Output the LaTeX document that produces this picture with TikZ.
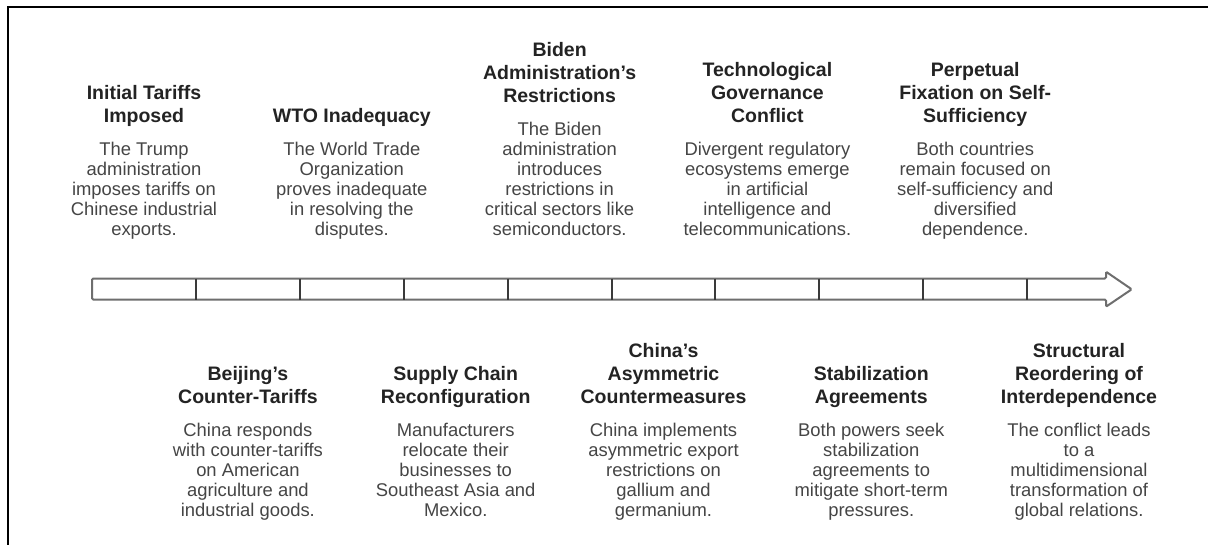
\documentclass[tikz,border=0pt]{standalone}
\usepackage{fontspec}
\setmainfont{Liberation Sans}

\definecolor{titlecol}{HTML}{232323}
\definecolor{desccol}{HTML}{454545}
\definecolor{barcol}{HTML}{6E6E6E}
\definecolor{tickcol}{HTML}{3A3A3A}

% heading and body text of one timeline event
\newcommand{\evtitlefont}{\fontsize{19.5}{23}\selectfont\bfseries}
\newcommand{\evdescfont}{\fontsize{18.4}{20}\selectfont\mdseries}
\newcommand{\eventblock}[2]{%
  \parbox[b]{200pt}{\centering
    \evtitlefont\leavevmode\textcolor{titlecol}{#1}\par
    \vspace{13pt}%
    \evdescfont #2\par}}

\tikzset{
  event/.style={inner sep=0pt, outer sep=0pt, anchor=base, text=desccol},
  frameline/.style={line width=2.2pt, draw=black},
  barline/.style={line width=2pt, draw=barcol, rounded corners=1.2pt, line join=miter},
  tickline/.style={line width=2pt, draw=tickcol}
}

\begin{document}
\begin{tikzpicture}[x=1pt, y=-1pt]
\useasboundingbox (0,0) rectangle (1208,544);
\fill[white] (0,0) rectangle (1208,544);

% outer frame (left and top edges)
\draw[frameline] (8,548) -- (8,7) -- (1212,7);

% timeline arrow
\coordinate (barL) at (92,278.5);
\draw[barline] (92,278.5) -- (1106,278.5) -- (1106,271.7) -- (1131.7,289.3)
  -- (1106,306.7) -- (1106,299.5) -- (92,299.5) -- cycle;
\foreach \k in {1,...,9} {
  \coordinate (t\k top) at ({92+103.9*\k},278.5);
  \coordinate (t\k bot) at ({92+103.9*\k},299.5);
  \draw[tickline] (t\k top) -- (t\k bot);
}

% events above the timeline
\node[event] (e1) at (144,235) {\eventblock{Initial Tariffs\\Imposed}
  {The Trump\\administration\\imposes tariffs on\\Chinese industrial\\exports.}};
\node[event] (e3) at (351.8,235) {\eventblock{WTO Inadequacy}
  {The World Trade\\Organization\\proves inadequate\\in resolving the\\disputes.}};
\node[event] (e5) at (559.6,235) {\eventblock{Biden\\Administration's\\Restrictions}
  {The Biden\\administration\\introduces\\restrictions in\\critical sectors like\\semiconductors.}};
\node[event] (e7) at (767.4,235) {\eventblock{Technological\\Governance\\Conflict}
  {Divergent regulatory\\ecosystems emerge\\in artificial\\intelligence and\\telecommunications.}};
\node[event] (e9) at (975.2,235) {\eventblock{Perpetual\\Fixation on Self-\\Sufficiency}
  {Both countries\\remain focused on\\self-sufficiency and\\diversified\\dependence.}};

% events below the timeline
\node[event] (e2) at (247.9,516) {\eventblock{Beijing's\\Counter-Tariffs}
  {China responds\\with counter-tariffs\\on American\\agriculture and\\industrial goods.}};
\node[event] (e4) at (455.7,516) {\eventblock{Supply Chain\\Reconfiguration}
  {Manufacturers\\relocate their\\businesses to\\Southeast Asia and\\Mexico.}};
\node[event] (e6) at (663.5,516) {\eventblock{China's\\Asymmetric\\Countermeasures}
  {China implements\\asymmetric export\\restrictions on\\gallium and\\germanium.}};
\node[event] (e8) at (871.3,516) {\eventblock{Stabilization\\Agreements}
  {Both powers seek\\stabilization\\agreements to\\mitigate short-term\\pressures.}};
\node[event] (e10) at (1079,516) {\eventblock{Structural\\Reordering of\\Interdependence}
  {The conflict leads\\to a\\multidimensional\\transformation of\\global relations.}};
\end{tikzpicture}
\end{document}
